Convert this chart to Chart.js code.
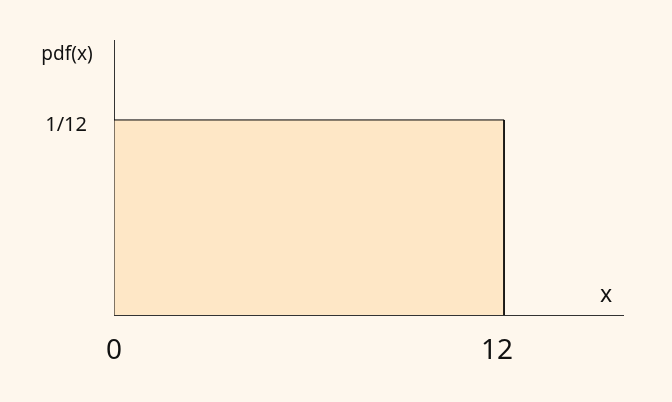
<!DOCTYPE html>
<html>
<head>
<meta charset="utf-8">
<script src="https://cdn.jsdelivr.net/npm/chart.js@4/dist/chart.umd.min.js"></script>
<style>
html,body{margin:0;padding:0;background:#fef7ed;}
canvas{display:block;}
</style>
</head>
<body>
<canvas id="c" width="672" height="402"></canvas>
<script>
const xValues = [0, 0, 12, 12];
const yValues = [0, 1/12, 1/12, 0];
const xTicks = [0, 12];
const xTickLabels = ['0', '12'];
const yTicks = [1/12];
const yTickLabels = ['1/12'];
const xAxisTitle = 'x';
const yAxisTitle = 'pdf(x)';
const xMax = 15.66;
const yMax = 0.1175;

const FONT = '"Noto Sans", "Open Sans", sans-serif';

const titlePlugin = {
  id: 'axisTitles',
  afterDraw(chart) {
    const ctx = chart.ctx;
    const xs = chart.scales.x, ys = chart.scales.y;
    ctx.save();
    ctx.fillStyle = '#111';
    ctx.textAlign = 'center';
    ctx.textBaseline = 'middle';
    ctx.font = '23px ' + FONT;
    ctx.fillText(xAxisTitle, xs.right - 17, ys.bottom - 20);
    ctx.font = '19px ' + FONT;
    ctx.fillText(yAxisTitle, xs.left - 47, ys.top + 15);
    ctx.restore();
  }
};

new Chart(document.getElementById('c'), {
  type: 'scatter',
  data: {
    datasets: [{
      data: xValues.map((x, i) => ({x: x, y: yValues[i]})),
      showLine: true,
      borderColor: '#000',
      borderWidth: 1,
      backgroundColor: '#fee7c6',
      fill: 'origin',
      pointRadius: 0,
      tension: 0
    }]
  },
  options: {
    responsive: false,
    animation: false,
    layout: {padding: {top: 40, right: 49, left: 0, bottom: 0}},
    plugins: {legend: {display: false}, tooltip: {enabled: false}},
    scales: {
      x: {
        type: 'linear',
        min: 0, max: xMax,
        grid: {display: false, drawTicks: false},
        border: {display: true, color: '#333', width: 1},
        afterBuildTicks: s => { s.ticks = xTicks.map(v => ({value: v})); },
        afterFit: s => { s.height = 87; },
        ticks: {
          autoSkip: false,
          maxRotation: 0,
          padding: 19,
          color: '#111',
          font: {family: FONT, size: 28},
          callback: (v) => {
            const i = xTicks.indexOf(v);
            return i === xTicks.length - 1 ? xTickLabels[i] + '\u2002' : xTickLabels[i];
          }
        }
      },
      y: {
        type: 'linear',
        min: 0, max: yMax,
        grid: {display: false, drawTicks: false},
        border: {display: true, color: '#333', width: 1},
        afterBuildTicks: s => { s.ticks = yTicks.map(v => ({value: v})); },
        afterFit: s => { s.width = 114; },
        ticks: {
          autoSkip: false,
          padding: 27,
          labelOffset: 5,
          color: '#111',
          font: {family: FONT, size: 20},
          callback: (v) => yTickLabels[yTicks.indexOf(v)]
        }
      }
    }
  },
  plugins: [titlePlugin]
});
</script>
</body>
</html>
